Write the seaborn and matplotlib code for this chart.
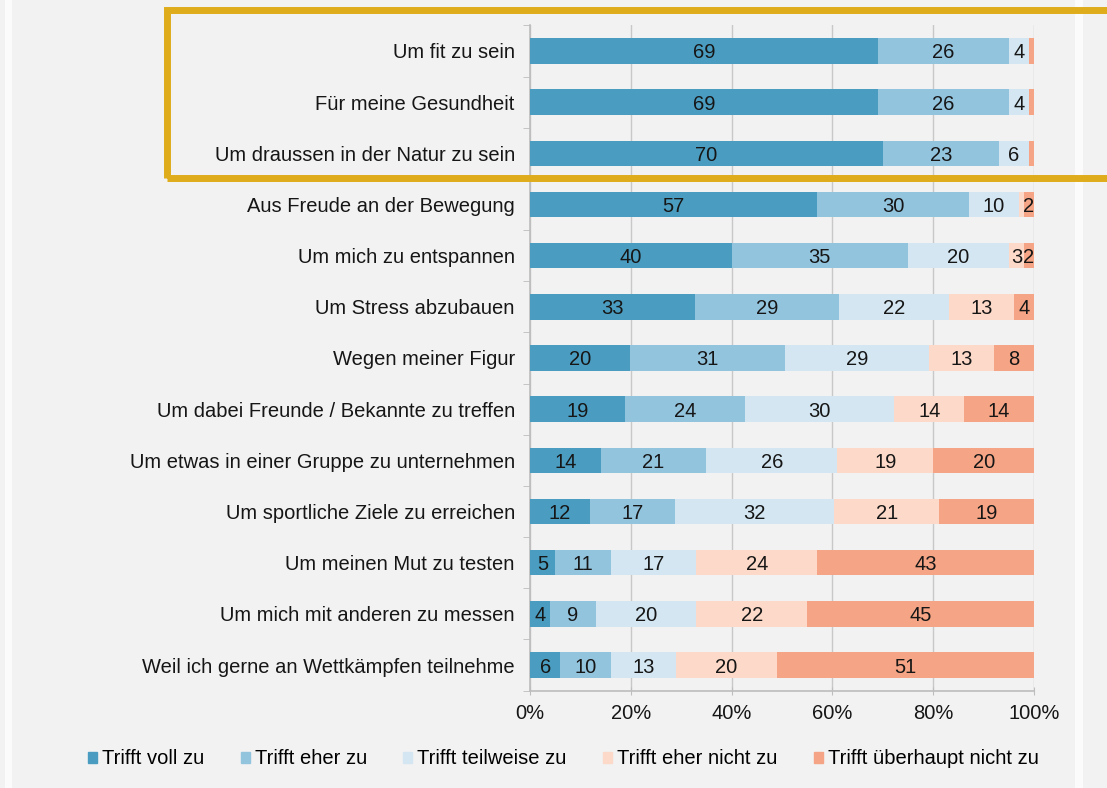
import numpy as np
import pandas as pd
import matplotlib
matplotlib.use("Agg")
import matplotlib.pyplot as plt
import matplotlib.patches as mpatches
import seaborn as sns

# --- data -------------------------------------------------------------
categories = [
    "Um fit zu sein",
    "Für meine Gesundheit",
    "Um draussen in der Natur zu sein",
    "Aus Freude an der Bewegung",
    "Um mich zu entspannen",
    "Um Stress abzubauen",
    "Wegen meiner Figur",
    "Um dabei Freunde / Bekannte zu treffen",
    "Um etwas in einer Gruppe zu unternehmen",
    "Um sportliche Ziele zu erreichen",
    "Um meinen Mut zu testen",
    "Um mich mit anderen zu messen",
    "Weil ich gerne an Wettkämpfen teilnehme",
]
series_names = ["Trifft voll zu", "Trifft eher zu", "Trifft teilweise zu",
                "Trifft eher nicht zu", "Trifft überhaupt nicht zu"]
voll = [69, 69, 70, 57, 40, 33, 20, 19, 14, 12, 5, 4, 6]
eher = [26, 26, 23, 30, 35, 29, 31, 24, 21, 17, 11, 9, 10]
teilweise = [4, 4, 6, 10, 20, 22, 29, 30, 26, 32, 17, 20, 13]
eher_nicht = [0, 0, 0, 1, 3, 13, 13, 14, 19, 21, 24, 22, 20]
gar_nicht = [1, 1, 1, 2, 2, 4, 8, 14, 20, 19, 43, 45, 51]
tick_labels = ["0%", "20%", "40%", "60%", "80%", "100%"]

colors = ["#4a9dc1", "#93c4de", "#d3e6f1", "#fcd9c8", "#f5a585"]

plt.rcParams["font.family"] = ["Liberation Sans", "DejaVu Sans"]
FS = 14.5
TXT = "#161616"

df = pd.DataFrame(dict(zip(series_names, [voll, eher, teilweise, eher_nicht, gar_nicht])),
                  index=categories)
share = df.div(df.sum(axis=1), axis=0) * 100
cum = share.cumsum(axis=1)

BG = "#f2f2f2"
fig = plt.figure(figsize=(11.07, 7.88), dpi=100, facecolor=BG)
ax = fig.add_axes([0.4788, 0.1236, 0.4553, 0.8442])
ax.set_facecolor(BG)

# stacked bars: draw cumulative right edges, widest first
for name, col in reversed(list(zip(series_names, colors))):
    d = pd.DataFrame({"cat": categories, "val": cum[name].values})
    sns.barplot(data=d, x="val", y="cat", orient="h", color=col,
                width=0.5, saturation=1, ax=ax, linewidth=0, zorder=3)

# segment labels
for i, cat in enumerate(categories):
    left = 0
    for name in series_names:
        w = share.loc[cat, name]
        v = df.loc[cat, name]
        if v >= 2:
            ax.text(left + w / 2, i, f"{v}", ha="center", va="center_baseline",
                    fontsize=FS, color=TXT, zorder=4)
        left += w

ax.set_xlim(0, 100)
ax.set_ylim(len(categories) - 0.5, -0.5)
ax.set_xticks(np.linspace(0, 100, 6))
ax.set_xticklabels(tick_labels, fontsize=FS, color=TXT)
ax.set_xlabel("")
ax.set_ylabel("")
ax.tick_params(axis="y", length=0, pad=11, labelsize=FS, labelcolor=TXT)
ax.set_yticks(np.arange(len(categories) + 1) - 0.5, minor=True)
ax.tick_params(axis="y", which="minor", length=5, color="#bdbdbd", direction="out")
ax.tick_params(axis="x", length=6, direction="inout", color="#bdbdbd", pad=7)
ax.grid(axis="x", color="#c8c8c8", lw=1, zorder=0)
ax.set_axisbelow(True)
for s in ["top", "right"]:
    ax.spines[s].set_visible(False)
for s in ["left", "bottom"]:
    ax.spines[s].set_color("#bdbdbd")
    ax.spines[s].set_linewidth(1.2)

# legend
handles = [mpatches.Patch(color=c, label=n) for n, c in zip(series_names, colors)]
fig.legend(handles=handles, loc="center", bbox_to_anchor=(0.509, 0.037), ncol=5,
           frameon=False, fontsize=FS, handlelength=0.45, handleheight=0.45,
           handletextpad=0.25, columnspacing=1.8)

# highlight frame and screenshot strips
fig.patches.append(mpatches.Rectangle((166.5 / 1107, 1 - 177.5 / 788), 960 / 1107, 168 / 788,
                                      transform=fig.transFigure, fill=False,
                                      edgecolor="#dfad1b", lw=5, zorder=10))
fig.patches.append(mpatches.Rectangle((5 / 1107, 0), 7 / 1107, 1, transform=fig.transFigure,
                                      color="#fbfbfb", lw=0, zorder=1))
fig.patches.append(mpatches.Rectangle((1075 / 1107, 0), 8 / 1107, 1, transform=fig.transFigure,
                                      color="#fbfbfb", lw=0, zorder=1))

fig.savefig("out.png", dpi=100, facecolor=BG)
